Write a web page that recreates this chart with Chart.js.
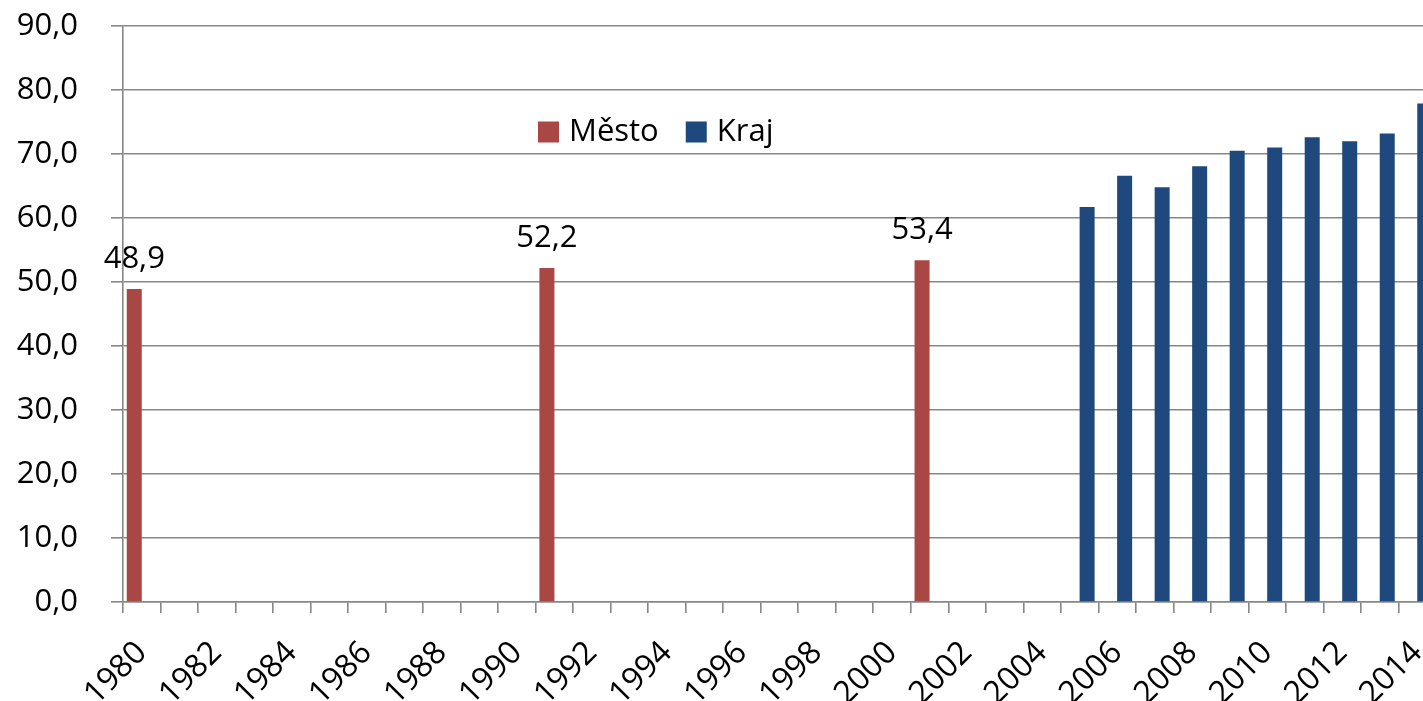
<!DOCTYPE html>
<html>
<head>
<meta charset="utf-8">
<script src="https://cdn.jsdelivr.net/npm/chart.js@4.4.0/dist/chart.umd.min.js"></script>
<style>
  html, body { margin: 0; padding: 0; background: #fff; overflow: hidden; }
  #wrap { position: relative; width: 1436px; height: 701px; }
</style>
</head>
<body>
<div id="wrap"><canvas id="chartRoky"></canvas></div>
<script>
// ========== DATA ==========
const roky = ["1980","1981","1982","1983","1984","1985","1986","1987","1988","1989",
              "1990","1991","1992","1993","1994","1995","1996","1997","1998","1999",
              "2000","2001","2002","2003","2004","2005","2006","2007","2008","2009",
              "2010","2011","2012","2013","2014"];

const mesto = [48.9, null, null, null, null, null, null, null, null, null,
               null, 52.2, null, null, null, null, null, null, null, null,
               null, 53.4, null, null, null, null, null, null, null, null,
               null, null, null, null, null];

const kraj = [null, null, null, null, null, null, null, null, null, null,
              null, null, null, null, null, null, null, null, null, null,
              null, null, null, null, null, 61.7, 66.6, 64.8, 68.1, 70.5,
              71.0, 72.6, 72.0, 73.2, 77.9];

const osaY = { min: 0, max: 90, krok: 10 };

// ========== HELPERS ==========
const FONT = "'Open Sans', sans-serif";
const SEDA = "#878787";

function cz(n) {
  return Number(n).toFixed(1).replace(".", ",");
}

// labels above the Město bars
const popisky = {
  id: "popisky",
  afterDatasetsDraw(chart) {
    const ctx = chart.ctx;
    const meta = chart.getDatasetMeta(0);
    ctx.save();
    ctx.font = "31px " + FONT;
    ctx.fillStyle = "#000";
    ctx.textAlign = "center";
    ctx.textBaseline = "alphabetic";
    meta.data.forEach((bar, i) => {
      const v = mesto[i];
      if (v == null) return;
      ctx.fillText(cz(v), bar.x, bar.y - 21);
    });
    ctx.restore();
  }
};

// legend inside the plot area
const legenda = {
  id: "legenda",
  afterDraw(chart) {
    const ctx = chart.ctx;
    const area = chart.chartArea;
    let x = area.left + 415;
    const yMid = area.top + 106;
    const box = 21;
    ctx.save();
    ctx.font = "31px " + FONT;
    ctx.textBaseline = "middle";
    ctx.textAlign = "left";
    chart.data.datasets.forEach(ds => {
      ctx.fillStyle = ds.backgroundColor;
      ctx.fillRect(x, yMid - box / 2, box, box);
      x += box + 10;
      ctx.fillStyle = "#000";
      ctx.fillText(ds.label, x, yMid);
      x += ctx.measureText(ds.label).width + 27;
    });
    ctx.restore();
  }
};

// ========== CHART ==========
new Chart(document.getElementById("chartRoky"), {
  type: "bar",
  data: {
    labels: roky,
    datasets: [
      { label: "Město", data: mesto, backgroundColor: "#a94744",
        categoryPercentage: 0.8, barPercentage: 1.0 },
      { label: "Kraj", data: kraj, backgroundColor: "#1f497d",
        categoryPercentage: 0.8, barPercentage: 1.0 }
    ]
  },
  options: {
    responsive: true,
    maintainAspectRatio: false,
    animation: false,
    layout: { padding: { top: 26, left: 0, right: 0, bottom: 0 } },
    plugins: {
      legend: { display: false },
      tooltip: { enabled: false }
    },
    scales: {
      x: {
        grid: { offset: true, drawOnChartArea: false, color: SEDA, lineWidth: 1.6, tickLength: 11 },
        border: { color: SEDA, width: 1.6 },
        ticks: {
          autoSkip: false,
          minRotation: 45,
          maxRotation: 45,
          padding: 21,
          color: "#000",
          font: { family: FONT, size: 32 },
          callback: (v, i) => (i % 2 === 0 ? roky[i] : "")
        },
        afterFit(s) {
          s.height = 99;
          s.paddingLeft = 0; s.paddingRight = 0;
        }
      },
      y: {
        min: osaY.min,
        max: osaY.max,
        grid: { color: SEDA, lineWidth: 1.6, tickLength: 12 },
        border: { color: SEDA, width: 1.6 },
        ticks: {
          stepSize: osaY.krok,
          padding: 33,
          color: "#000",
          font: { family: FONT, size: 31 },
          callback: v => cz(v)
        },
        afterFit(s) {
          s.width = 123;
          s.paddingTop = 0; s.paddingBottom = 0;
        }
      }
    }
  },
  plugins: [popisky, legenda]
});
</script>
</body>
</html>
